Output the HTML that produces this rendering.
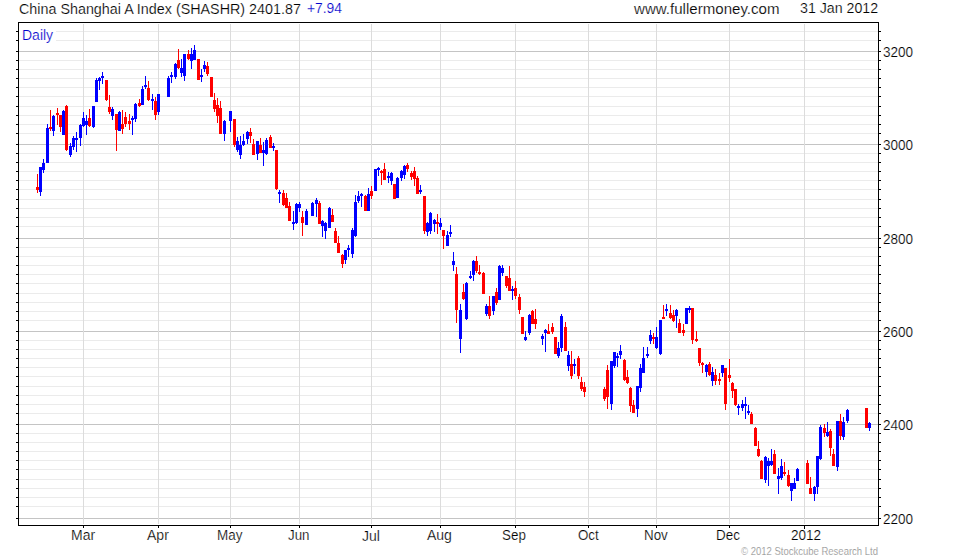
<!DOCTYPE html>
<html><head><meta charset="utf-8"><style>
html,body{margin:0;padding:0;background:#fff;}
body{width:960px;height:560px;overflow:hidden;font-family:"Liberation Sans",sans-serif;}
svg{display:block;}
</style></head><body>
<svg width="960" height="560" viewBox="0 0 960 560">
<rect width="960" height="560" fill="#fff"/>
<g shape-rendering="crispEdges">
<rect x="19" y="31" width="859" height="1" fill="#ebebeb"/>
<rect x="19" y="40" width="859" height="1" fill="#ebebeb"/>
<rect x="19" y="60" width="859" height="1" fill="#ebebeb"/>
<rect x="19" y="69" width="859" height="1" fill="#ebebeb"/>
<rect x="19" y="78" width="859" height="1" fill="#ebebeb"/>
<rect x="19" y="87" width="859" height="1" fill="#ebebeb"/>
<rect x="19" y="96" width="859" height="1" fill="#ebebeb"/>
<rect x="19" y="106" width="859" height="1" fill="#ebebeb"/>
<rect x="19" y="115" width="859" height="1" fill="#ebebeb"/>
<rect x="19" y="124" width="859" height="1" fill="#ebebeb"/>
<rect x="19" y="133" width="859" height="1" fill="#ebebeb"/>
<rect x="19" y="153" width="859" height="1" fill="#ebebeb"/>
<rect x="19" y="162" width="859" height="1" fill="#ebebeb"/>
<rect x="19" y="171" width="859" height="1" fill="#ebebeb"/>
<rect x="19" y="180" width="859" height="1" fill="#ebebeb"/>
<rect x="19" y="189" width="859" height="1" fill="#ebebeb"/>
<rect x="19" y="199" width="859" height="1" fill="#ebebeb"/>
<rect x="19" y="208" width="859" height="1" fill="#ebebeb"/>
<rect x="19" y="217" width="859" height="1" fill="#ebebeb"/>
<rect x="19" y="226" width="859" height="1" fill="#ebebeb"/>
<rect x="19" y="247" width="859" height="1" fill="#ebebeb"/>
<rect x="19" y="256" width="859" height="1" fill="#ebebeb"/>
<rect x="19" y="265" width="859" height="1" fill="#ebebeb"/>
<rect x="19" y="274" width="859" height="1" fill="#ebebeb"/>
<rect x="19" y="283" width="859" height="1" fill="#ebebeb"/>
<rect x="19" y="293" width="859" height="1" fill="#ebebeb"/>
<rect x="19" y="302" width="859" height="1" fill="#ebebeb"/>
<rect x="19" y="311" width="859" height="1" fill="#ebebeb"/>
<rect x="19" y="320" width="859" height="1" fill="#ebebeb"/>
<rect x="19" y="340" width="859" height="1" fill="#ebebeb"/>
<rect x="19" y="349" width="859" height="1" fill="#ebebeb"/>
<rect x="19" y="358" width="859" height="1" fill="#ebebeb"/>
<rect x="19" y="367" width="859" height="1" fill="#ebebeb"/>
<rect x="19" y="376" width="859" height="1" fill="#ebebeb"/>
<rect x="19" y="386" width="859" height="1" fill="#ebebeb"/>
<rect x="19" y="395" width="859" height="1" fill="#ebebeb"/>
<rect x="19" y="404" width="859" height="1" fill="#ebebeb"/>
<rect x="19" y="413" width="859" height="1" fill="#ebebeb"/>
<rect x="19" y="433" width="859" height="1" fill="#ebebeb"/>
<rect x="19" y="442" width="859" height="1" fill="#ebebeb"/>
<rect x="19" y="451" width="859" height="1" fill="#ebebeb"/>
<rect x="19" y="460" width="859" height="1" fill="#ebebeb"/>
<rect x="19" y="469" width="859" height="1" fill="#ebebeb"/>
<rect x="19" y="479" width="859" height="1" fill="#ebebeb"/>
<rect x="19" y="488" width="859" height="1" fill="#ebebeb"/>
<rect x="19" y="497" width="859" height="1" fill="#ebebeb"/>
<rect x="19" y="506" width="859" height="1" fill="#ebebeb"/>
<rect x="19" y="51" width="859" height="1" fill="#c4c4c4"/>
<rect x="19" y="144" width="859" height="1" fill="#c4c4c4"/>
<rect x="19" y="238" width="859" height="1" fill="#c4c4c4"/>
<rect x="19" y="331" width="859" height="1" fill="#c4c4c4"/>
<rect x="19" y="424" width="859" height="1" fill="#c4c4c4"/>
<rect x="19" y="518" width="859" height="1" fill="#c4c4c4"/>
<rect x="19" y="23" width="37" height="24" fill="#fff"/>
<rect x="83" y="24" width="1" height="500" fill="#dcdcdc"/>
<rect x="158" y="24" width="1" height="500" fill="#dcdcdc"/>
<rect x="230" y="24" width="1" height="500" fill="#dcdcdc"/>
<rect x="299" y="24" width="1" height="500" fill="#dcdcdc"/>
<rect x="371" y="24" width="1" height="500" fill="#dcdcdc"/>
<rect x="440" y="24" width="1" height="500" fill="#dcdcdc"/>
<rect x="515" y="24" width="1" height="500" fill="#dcdcdc"/>
<rect x="588" y="24" width="1" height="500" fill="#dcdcdc"/>
<rect x="656" y="24" width="1" height="500" fill="#dcdcdc"/>
<rect x="729" y="24" width="1" height="500" fill="#dcdcdc"/>
<rect x="804" y="24" width="1" height="500" fill="#dcdcdc"/>
<rect x="18" y="22" width="861" height="1" fill="#000"/>
<rect x="18" y="525" width="861" height="1" fill="#000"/>
<rect x="18" y="22" width="1" height="504" fill="#000"/>
<rect x="878" y="22" width="1" height="504" fill="#000"/>
<rect x="16" y="31" width="2" height="1" fill="#000"/>
<rect x="879" y="31" width="2" height="1" fill="#000"/>
<rect x="16" y="40" width="2" height="1" fill="#000"/>
<rect x="879" y="40" width="2" height="1" fill="#000"/>
<rect x="16" y="60" width="2" height="1" fill="#000"/>
<rect x="879" y="60" width="2" height="1" fill="#000"/>
<rect x="16" y="69" width="2" height="1" fill="#000"/>
<rect x="879" y="69" width="2" height="1" fill="#000"/>
<rect x="16" y="78" width="2" height="1" fill="#000"/>
<rect x="879" y="78" width="2" height="1" fill="#000"/>
<rect x="16" y="87" width="2" height="1" fill="#000"/>
<rect x="879" y="87" width="2" height="1" fill="#000"/>
<rect x="16" y="96" width="2" height="1" fill="#000"/>
<rect x="879" y="96" width="2" height="1" fill="#000"/>
<rect x="16" y="106" width="2" height="1" fill="#000"/>
<rect x="879" y="106" width="2" height="1" fill="#000"/>
<rect x="16" y="115" width="2" height="1" fill="#000"/>
<rect x="879" y="115" width="2" height="1" fill="#000"/>
<rect x="16" y="124" width="2" height="1" fill="#000"/>
<rect x="879" y="124" width="2" height="1" fill="#000"/>
<rect x="16" y="133" width="2" height="1" fill="#000"/>
<rect x="879" y="133" width="2" height="1" fill="#000"/>
<rect x="16" y="153" width="2" height="1" fill="#000"/>
<rect x="879" y="153" width="2" height="1" fill="#000"/>
<rect x="16" y="162" width="2" height="1" fill="#000"/>
<rect x="879" y="162" width="2" height="1" fill="#000"/>
<rect x="16" y="171" width="2" height="1" fill="#000"/>
<rect x="879" y="171" width="2" height="1" fill="#000"/>
<rect x="16" y="180" width="2" height="1" fill="#000"/>
<rect x="879" y="180" width="2" height="1" fill="#000"/>
<rect x="16" y="189" width="2" height="1" fill="#000"/>
<rect x="879" y="189" width="2" height="1" fill="#000"/>
<rect x="16" y="199" width="2" height="1" fill="#000"/>
<rect x="879" y="199" width="2" height="1" fill="#000"/>
<rect x="16" y="208" width="2" height="1" fill="#000"/>
<rect x="879" y="208" width="2" height="1" fill="#000"/>
<rect x="16" y="217" width="2" height="1" fill="#000"/>
<rect x="879" y="217" width="2" height="1" fill="#000"/>
<rect x="16" y="226" width="2" height="1" fill="#000"/>
<rect x="879" y="226" width="2" height="1" fill="#000"/>
<rect x="16" y="247" width="2" height="1" fill="#000"/>
<rect x="879" y="247" width="2" height="1" fill="#000"/>
<rect x="16" y="256" width="2" height="1" fill="#000"/>
<rect x="879" y="256" width="2" height="1" fill="#000"/>
<rect x="16" y="265" width="2" height="1" fill="#000"/>
<rect x="879" y="265" width="2" height="1" fill="#000"/>
<rect x="16" y="274" width="2" height="1" fill="#000"/>
<rect x="879" y="274" width="2" height="1" fill="#000"/>
<rect x="16" y="283" width="2" height="1" fill="#000"/>
<rect x="879" y="283" width="2" height="1" fill="#000"/>
<rect x="16" y="293" width="2" height="1" fill="#000"/>
<rect x="879" y="293" width="2" height="1" fill="#000"/>
<rect x="16" y="302" width="2" height="1" fill="#000"/>
<rect x="879" y="302" width="2" height="1" fill="#000"/>
<rect x="16" y="311" width="2" height="1" fill="#000"/>
<rect x="879" y="311" width="2" height="1" fill="#000"/>
<rect x="16" y="320" width="2" height="1" fill="#000"/>
<rect x="879" y="320" width="2" height="1" fill="#000"/>
<rect x="16" y="340" width="2" height="1" fill="#000"/>
<rect x="879" y="340" width="2" height="1" fill="#000"/>
<rect x="16" y="349" width="2" height="1" fill="#000"/>
<rect x="879" y="349" width="2" height="1" fill="#000"/>
<rect x="16" y="358" width="2" height="1" fill="#000"/>
<rect x="879" y="358" width="2" height="1" fill="#000"/>
<rect x="16" y="367" width="2" height="1" fill="#000"/>
<rect x="879" y="367" width="2" height="1" fill="#000"/>
<rect x="16" y="376" width="2" height="1" fill="#000"/>
<rect x="879" y="376" width="2" height="1" fill="#000"/>
<rect x="16" y="386" width="2" height="1" fill="#000"/>
<rect x="879" y="386" width="2" height="1" fill="#000"/>
<rect x="16" y="395" width="2" height="1" fill="#000"/>
<rect x="879" y="395" width="2" height="1" fill="#000"/>
<rect x="16" y="404" width="2" height="1" fill="#000"/>
<rect x="879" y="404" width="2" height="1" fill="#000"/>
<rect x="16" y="413" width="2" height="1" fill="#000"/>
<rect x="879" y="413" width="2" height="1" fill="#000"/>
<rect x="16" y="433" width="2" height="1" fill="#000"/>
<rect x="879" y="433" width="2" height="1" fill="#000"/>
<rect x="16" y="442" width="2" height="1" fill="#000"/>
<rect x="879" y="442" width="2" height="1" fill="#000"/>
<rect x="16" y="451" width="2" height="1" fill="#000"/>
<rect x="879" y="451" width="2" height="1" fill="#000"/>
<rect x="16" y="460" width="2" height="1" fill="#000"/>
<rect x="879" y="460" width="2" height="1" fill="#000"/>
<rect x="16" y="469" width="2" height="1" fill="#000"/>
<rect x="879" y="469" width="2" height="1" fill="#000"/>
<rect x="16" y="479" width="2" height="1" fill="#000"/>
<rect x="879" y="479" width="2" height="1" fill="#000"/>
<rect x="16" y="488" width="2" height="1" fill="#000"/>
<rect x="879" y="488" width="2" height="1" fill="#000"/>
<rect x="16" y="497" width="2" height="1" fill="#000"/>
<rect x="879" y="497" width="2" height="1" fill="#000"/>
<rect x="16" y="506" width="2" height="1" fill="#000"/>
<rect x="879" y="506" width="2" height="1" fill="#000"/>
<rect x="16" y="51" width="2" height="1" fill="#000"/>
<rect x="879" y="51" width="2" height="1" fill="#000"/>
<rect x="16" y="144" width="2" height="1" fill="#000"/>
<rect x="879" y="144" width="2" height="1" fill="#000"/>
<rect x="16" y="238" width="2" height="1" fill="#000"/>
<rect x="879" y="238" width="2" height="1" fill="#000"/>
<rect x="16" y="331" width="2" height="1" fill="#000"/>
<rect x="879" y="331" width="2" height="1" fill="#000"/>
<rect x="16" y="424" width="2" height="1" fill="#000"/>
<rect x="879" y="424" width="2" height="1" fill="#000"/>
<rect x="16" y="518" width="2" height="1" fill="#000"/>
<rect x="879" y="518" width="2" height="1" fill="#000"/>
<rect x="83" y="526" width="1" height="2" fill="#000"/>
<rect x="158" y="526" width="1" height="2" fill="#000"/>
<rect x="230" y="526" width="1" height="2" fill="#000"/>
<rect x="299" y="526" width="1" height="2" fill="#000"/>
<rect x="371" y="526" width="1" height="2" fill="#000"/>
<rect x="440" y="526" width="1" height="2" fill="#000"/>
<rect x="515" y="526" width="1" height="2" fill="#000"/>
<rect x="588" y="526" width="1" height="2" fill="#000"/>
<rect x="656" y="526" width="1" height="2" fill="#000"/>
<rect x="729" y="526" width="1" height="2" fill="#000"/>
<rect x="804" y="526" width="1" height="3" fill="#000"/>
<rect x="37" y="174.0" width="1" height="19.0" fill="#ff0000"/>
<rect x="36" y="187.0" width="3" height="3.0" fill="#ff0000"/>
<rect x="40" y="167.0" width="1" height="29.0" fill="#0000ff"/>
<rect x="39" y="167.0" width="3" height="25.0" fill="#0000ff"/>
<rect x="43" y="159.0" width="1" height="14.0" fill="#0000ff"/>
<rect x="42" y="163.0" width="3" height="7.0" fill="#0000ff"/>
<rect x="47" y="124.0" width="1" height="39.0" fill="#0000ff"/>
<rect x="46" y="128.0" width="3" height="35.0" fill="#0000ff"/>
<rect x="50" y="110.0" width="1" height="21.0" fill="#ff0000"/>
<rect x="49" y="127.0" width="3" height="2.0" fill="#ff0000"/>
<rect x="53" y="115.0" width="1" height="21.0" fill="#0000ff"/>
<rect x="52" y="116.0" width="3" height="15.0" fill="#0000ff"/>
<rect x="57" y="108.0" width="1" height="17.0" fill="#ff0000"/>
<rect x="56" y="113.0" width="3" height="2.0" fill="#ff0000"/>
<rect x="60" y="115.0" width="1" height="17.0" fill="#ff0000"/>
<rect x="59" y="115.0" width="3" height="12.0" fill="#ff0000"/>
<rect x="63" y="110.0" width="1" height="25.0" fill="#0000ff"/>
<rect x="62" y="111.0" width="3" height="24.0" fill="#0000ff"/>
<rect x="66" y="105.0" width="1" height="46.0" fill="#ff0000"/>
<rect x="65" y="106.0" width="3" height="44.0" fill="#ff0000"/>
<rect x="70" y="143.0" width="1" height="14.0" fill="#0000ff"/>
<rect x="69" y="146.0" width="3" height="9.0" fill="#0000ff"/>
<rect x="73" y="136.0" width="1" height="14.0" fill="#0000ff"/>
<rect x="72" y="138.0" width="3" height="9.0" fill="#0000ff"/>
<rect x="76" y="132.0" width="1" height="20.0" fill="#0000ff"/>
<rect x="75" y="138.0" width="3" height="2.0" fill="#0000ff"/>
<rect x="80" y="124.0" width="1" height="22.0" fill="#0000ff"/>
<rect x="79" y="125.0" width="3" height="13.0" fill="#0000ff"/>
<rect x="83" y="112.0" width="1" height="15.0" fill="#0000ff"/>
<rect x="82" y="118.0" width="3" height="8.0" fill="#0000ff"/>
<rect x="86" y="115.0" width="1" height="20.0" fill="#0000ff"/>
<rect x="85" y="121.0" width="3" height="4.0" fill="#0000ff"/>
<rect x="89" y="109.0" width="1" height="18.0" fill="#ff0000"/>
<rect x="88" y="118.0" width="3" height="8.0" fill="#ff0000"/>
<rect x="93" y="106.0" width="1" height="22.0" fill="#0000ff"/>
<rect x="92" y="106.0" width="3" height="21.0" fill="#0000ff"/>
<rect x="96" y="78.0" width="1" height="24.0" fill="#0000ff"/>
<rect x="95" y="80.0" width="3" height="22.0" fill="#0000ff"/>
<rect x="99" y="77.0" width="1" height="13.0" fill="#0000ff"/>
<rect x="98" y="78.0" width="3" height="3.0" fill="#0000ff"/>
<rect x="102" y="72.0" width="1" height="12.0" fill="#0000ff"/>
<rect x="101" y="76.0" width="3" height="2.0" fill="#0000ff"/>
<rect x="106" y="80.0" width="1" height="21.0" fill="#ff0000"/>
<rect x="105" y="80.0" width="3" height="20.0" fill="#ff0000"/>
<rect x="109" y="95.0" width="1" height="19.0" fill="#ff0000"/>
<rect x="108" y="107.0" width="3" height="5.0" fill="#ff0000"/>
<rect x="112" y="107.0" width="1" height="13.0" fill="#0000ff"/>
<rect x="111" y="109.0" width="3" height="7.0" fill="#0000ff"/>
<rect x="116" y="114.0" width="1" height="37.0" fill="#ff0000"/>
<rect x="115" y="114.0" width="3" height="16.0" fill="#ff0000"/>
<rect x="119" y="111.0" width="1" height="20.0" fill="#0000ff"/>
<rect x="118" y="112.0" width="3" height="19.0" fill="#0000ff"/>
<rect x="122" y="110.0" width="1" height="24.0" fill="#ff0000"/>
<rect x="121" y="124.0" width="3" height="5.0" fill="#ff0000"/>
<rect x="125" y="112.0" width="1" height="15.0" fill="#ff0000"/>
<rect x="124" y="117.0" width="3" height="7.0" fill="#ff0000"/>
<rect x="129" y="114.0" width="1" height="16.0" fill="#ff0000"/>
<rect x="128" y="121.0" width="3" height="3.0" fill="#ff0000"/>
<rect x="132" y="116.0" width="1" height="19.0" fill="#0000ff"/>
<rect x="131" y="118.0" width="3" height="2.0" fill="#0000ff"/>
<rect x="135" y="103.0" width="1" height="19.0" fill="#0000ff"/>
<rect x="134" y="104.0" width="3" height="15.0" fill="#0000ff"/>
<rect x="139" y="99.0" width="1" height="8.0" fill="#ff0000"/>
<rect x="138" y="103.0" width="3" height="3.0" fill="#ff0000"/>
<rect x="142" y="86.0" width="1" height="19.0" fill="#0000ff"/>
<rect x="141" y="89.0" width="3" height="16.0" fill="#0000ff"/>
<rect x="145" y="76.0" width="1" height="13.0" fill="#0000ff"/>
<rect x="144" y="85.0" width="3" height="2.0" fill="#0000ff"/>
<rect x="148" y="81.0" width="1" height="20.0" fill="#ff0000"/>
<rect x="147" y="88.0" width="3" height="12.0" fill="#ff0000"/>
<rect x="152" y="94.0" width="1" height="16.0" fill="#0000ff"/>
<rect x="151" y="99.0" width="3" height="2.0" fill="#0000ff"/>
<rect x="155" y="97.0" width="1" height="23.0" fill="#ff0000"/>
<rect x="154" y="101.0" width="3" height="14.0" fill="#ff0000"/>
<rect x="158" y="94.0" width="1" height="21.0" fill="#0000ff"/>
<rect x="157" y="94.0" width="3" height="18.0" fill="#0000ff"/>
<rect x="168" y="76.0" width="1" height="21.0" fill="#0000ff"/>
<rect x="167" y="78.0" width="3" height="19.0" fill="#0000ff"/>
<rect x="171" y="72.0" width="1" height="11.0" fill="#0000ff"/>
<rect x="170" y="75.0" width="3" height="2.0" fill="#0000ff"/>
<rect x="175" y="63.0" width="1" height="16.0" fill="#0000ff"/>
<rect x="174" y="64.0" width="3" height="13.0" fill="#0000ff"/>
<rect x="178" y="49.0" width="1" height="20.0" fill="#ff0000"/>
<rect x="177" y="60.0" width="3" height="8.0" fill="#ff0000"/>
<rect x="181" y="59.0" width="1" height="18.0" fill="#0000ff"/>
<rect x="180" y="68.0" width="3" height="5.0" fill="#0000ff"/>
<rect x="184" y="54.0" width="1" height="27.0" fill="#0000ff"/>
<rect x="183" y="54.0" width="3" height="22.0" fill="#0000ff"/>
<rect x="188" y="50.0" width="1" height="10.0" fill="#ff0000"/>
<rect x="187" y="54.0" width="3" height="5.0" fill="#ff0000"/>
<rect x="191" y="48.0" width="1" height="21.0" fill="#0000ff"/>
<rect x="190" y="54.0" width="3" height="7.0" fill="#0000ff"/>
<rect x="194" y="45.0" width="1" height="15.0" fill="#0000ff"/>
<rect x="193" y="50.0" width="3" height="10.0" fill="#0000ff"/>
<rect x="198" y="59.0" width="1" height="21.0" fill="#ff0000"/>
<rect x="197" y="59.0" width="3" height="21.0" fill="#ff0000"/>
<rect x="201" y="69.0" width="1" height="13.0" fill="#0000ff"/>
<rect x="200" y="75.0" width="3" height="2.0" fill="#0000ff"/>
<rect x="204" y="61.0" width="1" height="11.0" fill="#0000ff"/>
<rect x="203" y="65.0" width="3" height="4.0" fill="#0000ff"/>
<rect x="207" y="62.0" width="1" height="14.0" fill="#ff0000"/>
<rect x="206" y="66.0" width="3" height="8.0" fill="#ff0000"/>
<rect x="211" y="77.0" width="1" height="20.0" fill="#ff0000"/>
<rect x="210" y="77.0" width="3" height="20.0" fill="#ff0000"/>
<rect x="214" y="93.0" width="1" height="19.0" fill="#ff0000"/>
<rect x="213" y="100.0" width="3" height="9.0" fill="#ff0000"/>
<rect x="217" y="98.0" width="1" height="25.0" fill="#ff0000"/>
<rect x="216" y="105.0" width="3" height="11.0" fill="#ff0000"/>
<rect x="220" y="101.0" width="1" height="33.0" fill="#ff0000"/>
<rect x="219" y="108.0" width="3" height="26.0" fill="#ff0000"/>
<rect x="224" y="120.0" width="1" height="21.0" fill="#0000ff"/>
<rect x="223" y="121.0" width="3" height="13.0" fill="#0000ff"/>
<rect x="230" y="111.0" width="1" height="21.0" fill="#0000ff"/>
<rect x="229" y="111.0" width="3" height="10.0" fill="#0000ff"/>
<rect x="234" y="119.0" width="1" height="28.0" fill="#ff0000"/>
<rect x="233" y="119.0" width="3" height="26.0" fill="#ff0000"/>
<rect x="237" y="137.0" width="1" height="15.0" fill="#0000ff"/>
<rect x="236" y="141.0" width="3" height="9.0" fill="#0000ff"/>
<rect x="240" y="136.0" width="1" height="23.0" fill="#0000ff"/>
<rect x="239" y="145.0" width="3" height="10.0" fill="#0000ff"/>
<rect x="243" y="134.0" width="1" height="12.0" fill="#0000ff"/>
<rect x="242" y="141.0" width="3" height="4.0" fill="#0000ff"/>
<rect x="247" y="131.0" width="1" height="13.0" fill="#0000ff"/>
<rect x="246" y="132.0" width="3" height="7.0" fill="#0000ff"/>
<rect x="250" y="128.0" width="1" height="15.0" fill="#ff0000"/>
<rect x="249" y="132.0" width="3" height="4.0" fill="#ff0000"/>
<rect x="253" y="139.0" width="1" height="16.0" fill="#ff0000"/>
<rect x="252" y="144.0" width="3" height="11.0" fill="#ff0000"/>
<rect x="257" y="141.0" width="1" height="19.0" fill="#0000ff"/>
<rect x="256" y="141.0" width="3" height="13.0" fill="#0000ff"/>
<rect x="260" y="138.0" width="1" height="15.0" fill="#ff0000"/>
<rect x="259" y="145.0" width="3" height="8.0" fill="#ff0000"/>
<rect x="263" y="142.0" width="1" height="24.0" fill="#0000ff"/>
<rect x="262" y="150.0" width="3" height="3.0" fill="#0000ff"/>
<rect x="266" y="138.0" width="1" height="17.0" fill="#0000ff"/>
<rect x="265" y="140.0" width="3" height="14.0" fill="#0000ff"/>
<rect x="270" y="135.0" width="1" height="13.0" fill="#ff0000"/>
<rect x="269" y="137.0" width="3" height="11.0" fill="#ff0000"/>
<rect x="273" y="143.0" width="1" height="8.0" fill="#0000ff"/>
<rect x="272" y="146.0" width="3" height="1.5" fill="#0000ff"/>
<rect x="276" y="150.0" width="1" height="40.0" fill="#ff0000"/>
<rect x="275" y="150.0" width="3" height="39.0" fill="#ff0000"/>
<rect x="279" y="190.0" width="1" height="13.0" fill="#0000ff"/>
<rect x="278" y="192.0" width="3" height="2.0" fill="#0000ff"/>
<rect x="283" y="190.0" width="1" height="16.0" fill="#ff0000"/>
<rect x="282" y="193.0" width="3" height="12.0" fill="#ff0000"/>
<rect x="286" y="193.0" width="1" height="15.0" fill="#ff0000"/>
<rect x="285" y="198.0" width="3" height="10.0" fill="#ff0000"/>
<rect x="289" y="202.0" width="1" height="19.0" fill="#ff0000"/>
<rect x="288" y="206.0" width="3" height="15.0" fill="#ff0000"/>
<rect x="293" y="211.0" width="1" height="19.0" fill="#0000ff"/>
<rect x="292" y="222.0" width="3" height="2.0" fill="#0000ff"/>
<rect x="296" y="203.0" width="1" height="21.0" fill="#0000ff"/>
<rect x="295" y="204.0" width="3" height="19.0" fill="#0000ff"/>
<rect x="299" y="202.0" width="1" height="10.0" fill="#0000ff"/>
<rect x="298" y="204.0" width="3" height="4.0" fill="#0000ff"/>
<rect x="302" y="211.0" width="1" height="25.0" fill="#ff0000"/>
<rect x="301" y="217.0" width="3" height="6.0" fill="#ff0000"/>
<rect x="306" y="209.0" width="1" height="16.0" fill="#0000ff"/>
<rect x="305" y="211.0" width="3" height="14.0" fill="#0000ff"/>
<rect x="312" y="202.0" width="1" height="14.0" fill="#0000ff"/>
<rect x="311" y="203.0" width="3" height="13.0" fill="#0000ff"/>
<rect x="316" y="198.0" width="1" height="19.0" fill="#0000ff"/>
<rect x="315" y="200.0" width="3" height="4.0" fill="#0000ff"/>
<rect x="319" y="201.0" width="1" height="23.0" fill="#ff0000"/>
<rect x="318" y="203.0" width="3" height="21.0" fill="#ff0000"/>
<rect x="322" y="220.0" width="1" height="17.0" fill="#0000ff"/>
<rect x="321" y="221.0" width="3" height="5.0" fill="#0000ff"/>
<rect x="325" y="222.0" width="1" height="17.0" fill="#0000ff"/>
<rect x="324" y="223.0" width="3" height="8.0" fill="#0000ff"/>
<rect x="329" y="207.0" width="1" height="21.0" fill="#0000ff"/>
<rect x="328" y="208.0" width="3" height="20.0" fill="#0000ff"/>
<rect x="332" y="209.0" width="1" height="13.0" fill="#ff0000"/>
<rect x="331" y="215.0" width="3" height="7.0" fill="#ff0000"/>
<rect x="335" y="228.0" width="1" height="15.0" fill="#ff0000"/>
<rect x="334" y="231.0" width="3" height="12.0" fill="#ff0000"/>
<rect x="338" y="236.0" width="1" height="17.0" fill="#ff0000"/>
<rect x="337" y="243.0" width="3" height="10.0" fill="#ff0000"/>
<rect x="342" y="254.0" width="1" height="14.0" fill="#ff0000"/>
<rect x="341" y="255.0" width="3" height="9.0" fill="#ff0000"/>
<rect x="345" y="250.0" width="1" height="14.0" fill="#0000ff"/>
<rect x="344" y="250.0" width="3" height="10.0" fill="#0000ff"/>
<rect x="348" y="245.0" width="1" height="12.0" fill="#0000ff"/>
<rect x="347" y="248.0" width="3" height="2.0" fill="#0000ff"/>
<rect x="352" y="228.0" width="1" height="30.0" fill="#0000ff"/>
<rect x="351" y="230.0" width="3" height="24.0" fill="#0000ff"/>
<rect x="355" y="195.0" width="1" height="42.0" fill="#0000ff"/>
<rect x="354" y="202.0" width="3" height="34.0" fill="#0000ff"/>
<rect x="358" y="191.0" width="1" height="12.0" fill="#0000ff"/>
<rect x="357" y="196.0" width="3" height="5.0" fill="#0000ff"/>
<rect x="361" y="193.0" width="1" height="14.0" fill="#0000ff"/>
<rect x="360" y="194.0" width="3" height="2.0" fill="#0000ff"/>
<rect x="365" y="195.0" width="1" height="16.0" fill="#ff0000"/>
<rect x="364" y="196.0" width="3" height="15.0" fill="#ff0000"/>
<rect x="368" y="188.0" width="1" height="23.0" fill="#0000ff"/>
<rect x="367" y="194.0" width="3" height="17.0" fill="#0000ff"/>
<rect x="371" y="186.0" width="1" height="13.0" fill="#ff0000"/>
<rect x="370" y="191.0" width="3" height="5.0" fill="#ff0000"/>
<rect x="375" y="169.0" width="1" height="22.0" fill="#0000ff"/>
<rect x="374" y="169.0" width="3" height="22.0" fill="#0000ff"/>
<rect x="378" y="167.0" width="1" height="9.0" fill="#0000ff"/>
<rect x="377" y="168.0" width="3" height="2.0" fill="#0000ff"/>
<rect x="381" y="170.0" width="1" height="15.0" fill="#ff0000"/>
<rect x="380" y="171.0" width="3" height="1.5" fill="#ff0000"/>
<rect x="384" y="163.0" width="1" height="17.0" fill="#ff0000"/>
<rect x="383" y="169.0" width="3" height="11.0" fill="#ff0000"/>
<rect x="388" y="172.0" width="1" height="11.0" fill="#0000ff"/>
<rect x="387" y="176.0" width="3" height="2.0" fill="#0000ff"/>
<rect x="391" y="172.0" width="1" height="13.0" fill="#0000ff"/>
<rect x="390" y="173.0" width="3" height="8.0" fill="#0000ff"/>
<rect x="394" y="184.0" width="1" height="15.0" fill="#ff0000"/>
<rect x="393" y="184.0" width="3" height="15.0" fill="#ff0000"/>
<rect x="397" y="177.0" width="1" height="21.0" fill="#0000ff"/>
<rect x="396" y="178.0" width="3" height="20.0" fill="#0000ff"/>
<rect x="401" y="170.0" width="1" height="11.0" fill="#0000ff"/>
<rect x="400" y="171.0" width="3" height="7.0" fill="#0000ff"/>
<rect x="404" y="165.0" width="1" height="14.0" fill="#0000ff"/>
<rect x="403" y="166.0" width="3" height="9.0" fill="#0000ff"/>
<rect x="407" y="163.0" width="1" height="9.0" fill="#ff0000"/>
<rect x="406" y="165.0" width="3" height="4.0" fill="#ff0000"/>
<rect x="411" y="171.0" width="1" height="9.0" fill="#ff0000"/>
<rect x="410" y="173.0" width="3" height="4.0" fill="#ff0000"/>
<rect x="414" y="167.0" width="1" height="19.0" fill="#ff0000"/>
<rect x="413" y="171.0" width="3" height="8.0" fill="#ff0000"/>
<rect x="417" y="176.0" width="1" height="18.0" fill="#ff0000"/>
<rect x="416" y="178.0" width="3" height="16.0" fill="#ff0000"/>
<rect x="420" y="185.0" width="1" height="9.0" fill="#0000ff"/>
<rect x="419" y="190.0" width="3" height="2.0" fill="#0000ff"/>
<rect x="424" y="196.0" width="1" height="38.0" fill="#ff0000"/>
<rect x="423" y="196.0" width="3" height="35.0" fill="#ff0000"/>
<rect x="427" y="222.0" width="1" height="14.0" fill="#0000ff"/>
<rect x="426" y="223.0" width="3" height="9.0" fill="#0000ff"/>
<rect x="430" y="212.0" width="1" height="22.0" fill="#0000ff"/>
<rect x="429" y="213.0" width="3" height="18.0" fill="#0000ff"/>
<rect x="434" y="219.0" width="1" height="13.0" fill="#0000ff"/>
<rect x="433" y="220.0" width="3" height="4.0" fill="#0000ff"/>
<rect x="437" y="214.0" width="1" height="20.0" fill="#ff0000"/>
<rect x="436" y="222.0" width="3" height="2.0" fill="#ff0000"/>
<rect x="440" y="218.0" width="1" height="12.0" fill="#0000ff"/>
<rect x="439" y="223.0" width="3" height="4.0" fill="#0000ff"/>
<rect x="443" y="230.0" width="1" height="19.0" fill="#ff0000"/>
<rect x="442" y="230.0" width="3" height="6.0" fill="#ff0000"/>
<rect x="447" y="231.0" width="1" height="15.0" fill="#0000ff"/>
<rect x="446" y="235.0" width="3" height="11.0" fill="#0000ff"/>
<rect x="450" y="225.0" width="1" height="12.0" fill="#0000ff"/>
<rect x="449" y="232.0" width="3" height="2.0" fill="#0000ff"/>
<rect x="453" y="252.0" width="1" height="19.0" fill="#0000ff"/>
<rect x="452" y="261.0" width="3" height="4.0" fill="#0000ff"/>
<rect x="456" y="267.0" width="1" height="56.0" fill="#ff0000"/>
<rect x="455" y="274.0" width="3" height="36.0" fill="#ff0000"/>
<rect x="460" y="304.0" width="1" height="49.0" fill="#0000ff"/>
<rect x="459" y="310.0" width="3" height="29.0" fill="#0000ff"/>
<rect x="463" y="284.0" width="1" height="16.0" fill="#ff0000"/>
<rect x="462" y="292.0" width="3" height="7.0" fill="#ff0000"/>
<rect x="466" y="282.0" width="1" height="38.0" fill="#0000ff"/>
<rect x="465" y="283.0" width="3" height="36.0" fill="#0000ff"/>
<rect x="470" y="271.0" width="1" height="8.0" fill="#0000ff"/>
<rect x="469" y="276.0" width="3" height="2.0" fill="#0000ff"/>
<rect x="473" y="260.0" width="1" height="21.0" fill="#0000ff"/>
<rect x="472" y="261.0" width="3" height="14.0" fill="#0000ff"/>
<rect x="476" y="256.0" width="1" height="17.0" fill="#ff0000"/>
<rect x="475" y="261.0" width="3" height="10.0" fill="#ff0000"/>
<rect x="479" y="265.0" width="1" height="10.0" fill="#ff0000"/>
<rect x="478" y="272.0" width="3" height="2.0" fill="#ff0000"/>
<rect x="483" y="272.0" width="1" height="22.0" fill="#ff0000"/>
<rect x="482" y="273.0" width="3" height="21.0" fill="#ff0000"/>
<rect x="486" y="304.0" width="1" height="12.0" fill="#0000ff"/>
<rect x="485" y="306.0" width="3" height="8.0" fill="#0000ff"/>
<rect x="489" y="296.0" width="1" height="23.0" fill="#ff0000"/>
<rect x="488" y="306.0" width="3" height="10.0" fill="#ff0000"/>
<rect x="493" y="296.0" width="1" height="19.0" fill="#0000ff"/>
<rect x="492" y="296.0" width="3" height="15.0" fill="#0000ff"/>
<rect x="496" y="288.0" width="1" height="17.0" fill="#ff0000"/>
<rect x="495" y="292.0" width="3" height="11.0" fill="#ff0000"/>
<rect x="499" y="265.0" width="1" height="35.0" fill="#0000ff"/>
<rect x="498" y="266.0" width="3" height="34.0" fill="#0000ff"/>
<rect x="502" y="265.0" width="1" height="11.0" fill="#0000ff"/>
<rect x="501" y="268.0" width="3" height="5.0" fill="#0000ff"/>
<rect x="506" y="276.0" width="1" height="12.0" fill="#ff0000"/>
<rect x="505" y="276.0" width="3" height="10.0" fill="#ff0000"/>
<rect x="509" y="266.0" width="1" height="25.0" fill="#ff0000"/>
<rect x="508" y="278.0" width="3" height="13.0" fill="#ff0000"/>
<rect x="512" y="286.0" width="1" height="14.0" fill="#0000ff"/>
<rect x="511" y="289.0" width="3" height="2.0" fill="#0000ff"/>
<rect x="515" y="281.0" width="1" height="18.0" fill="#ff0000"/>
<rect x="514" y="288.0" width="3" height="8.0" fill="#ff0000"/>
<rect x="519" y="294.0" width="1" height="20.0" fill="#ff0000"/>
<rect x="518" y="297.0" width="3" height="13.0" fill="#ff0000"/>
<rect x="522" y="317.0" width="1" height="17.0" fill="#ff0000"/>
<rect x="521" y="317.0" width="3" height="17.0" fill="#ff0000"/>
<rect x="525" y="331.0" width="1" height="10.0" fill="#0000ff"/>
<rect x="524" y="337.0" width="3" height="3.0" fill="#0000ff"/>
<rect x="529" y="314.0" width="1" height="21.0" fill="#0000ff"/>
<rect x="528" y="315.0" width="3" height="18.0" fill="#0000ff"/>
<rect x="532" y="310.0" width="1" height="14.0" fill="#ff0000"/>
<rect x="531" y="311.0" width="3" height="13.0" fill="#ff0000"/>
<rect x="535" y="309.0" width="1" height="20.0" fill="#ff0000"/>
<rect x="534" y="319.0" width="3" height="5.0" fill="#ff0000"/>
<rect x="542" y="334.0" width="1" height="11.0" fill="#0000ff"/>
<rect x="541" y="336.0" width="3" height="3.0" fill="#0000ff"/>
<rect x="545" y="329.0" width="1" height="23.0" fill="#0000ff"/>
<rect x="544" y="330.0" width="3" height="3.0" fill="#0000ff"/>
<rect x="548" y="324.0" width="1" height="10.0" fill="#ff0000"/>
<rect x="547" y="331.0" width="3" height="3.0" fill="#ff0000"/>
<rect x="552" y="323.0" width="1" height="11.0" fill="#ff0000"/>
<rect x="551" y="327.0" width="3" height="5.0" fill="#ff0000"/>
<rect x="555" y="337.0" width="1" height="17.0" fill="#ff0000"/>
<rect x="554" y="337.0" width="3" height="17.0" fill="#ff0000"/>
<rect x="558" y="342.0" width="1" height="16.0" fill="#0000ff"/>
<rect x="557" y="348.0" width="3" height="8.0" fill="#0000ff"/>
<rect x="561" y="314.0" width="1" height="38.0" fill="#0000ff"/>
<rect x="560" y="316.0" width="3" height="32.0" fill="#0000ff"/>
<rect x="565" y="322.0" width="1" height="29.0" fill="#ff0000"/>
<rect x="564" y="327.0" width="3" height="24.0" fill="#ff0000"/>
<rect x="568" y="351.0" width="1" height="20.0" fill="#0000ff"/>
<rect x="567" y="355.0" width="3" height="11.0" fill="#0000ff"/>
<rect x="571" y="351.0" width="1" height="28.0" fill="#ff0000"/>
<rect x="570" y="364.0" width="3" height="12.0" fill="#ff0000"/>
<rect x="574" y="359.0" width="1" height="15.0" fill="#0000ff"/>
<rect x="573" y="364.0" width="3" height="2.0" fill="#0000ff"/>
<rect x="578" y="356.0" width="1" height="23.0" fill="#ff0000"/>
<rect x="577" y="358.0" width="3" height="18.0" fill="#ff0000"/>
<rect x="581" y="377.0" width="1" height="14.0" fill="#ff0000"/>
<rect x="580" y="382.0" width="3" height="7.0" fill="#ff0000"/>
<rect x="584" y="382.0" width="1" height="15.0" fill="#ff0000"/>
<rect x="583" y="387.0" width="3" height="5.0" fill="#ff0000"/>
<rect x="604" y="387.0" width="1" height="14.0" fill="#ff0000"/>
<rect x="603" y="389.0" width="3" height="10.0" fill="#ff0000"/>
<rect x="607" y="365.0" width="1" height="44.0" fill="#ff0000"/>
<rect x="606" y="370.0" width="3" height="27.0" fill="#ff0000"/>
<rect x="611" y="361.0" width="1" height="49.0" fill="#0000ff"/>
<rect x="610" y="361.0" width="3" height="43.0" fill="#0000ff"/>
<rect x="614" y="352.0" width="1" height="16.0" fill="#0000ff"/>
<rect x="613" y="352.0" width="3" height="14.0" fill="#0000ff"/>
<rect x="617" y="353.0" width="1" height="14.0" fill="#0000ff"/>
<rect x="616" y="356.0" width="3" height="2.0" fill="#0000ff"/>
<rect x="620" y="345.0" width="1" height="14.0" fill="#0000ff"/>
<rect x="619" y="351.0" width="3" height="4.0" fill="#0000ff"/>
<rect x="624" y="359.0" width="1" height="22.0" fill="#ff0000"/>
<rect x="623" y="360.0" width="3" height="20.0" fill="#ff0000"/>
<rect x="627" y="370.0" width="1" height="14.0" fill="#ff0000"/>
<rect x="626" y="377.0" width="3" height="6.0" fill="#ff0000"/>
<rect x="630" y="387.0" width="1" height="25.0" fill="#ff0000"/>
<rect x="629" y="388.0" width="3" height="18.0" fill="#ff0000"/>
<rect x="633" y="400.0" width="1" height="13.0" fill="#ff0000"/>
<rect x="632" y="405.0" width="3" height="8.0" fill="#ff0000"/>
<rect x="637" y="386.0" width="1" height="31.0" fill="#0000ff"/>
<rect x="636" y="386.0" width="3" height="23.0" fill="#0000ff"/>
<rect x="640" y="364.0" width="1" height="28.0" fill="#0000ff"/>
<rect x="639" y="368.0" width="3" height="20.0" fill="#0000ff"/>
<rect x="643" y="347.0" width="1" height="26.0" fill="#0000ff"/>
<rect x="642" y="358.0" width="3" height="15.0" fill="#0000ff"/>
<rect x="647" y="347.0" width="1" height="11.0" fill="#0000ff"/>
<rect x="646" y="354.0" width="3" height="2.0" fill="#0000ff"/>
<rect x="650" y="330.0" width="1" height="14.0" fill="#0000ff"/>
<rect x="649" y="335.0" width="3" height="6.0" fill="#0000ff"/>
<rect x="653" y="333.0" width="1" height="11.0" fill="#ff0000"/>
<rect x="652" y="337.0" width="3" height="2.0" fill="#ff0000"/>
<rect x="656" y="327.0" width="1" height="22.0" fill="#0000ff"/>
<rect x="655" y="337.0" width="3" height="11.0" fill="#0000ff"/>
<rect x="660" y="320.0" width="1" height="35.0" fill="#0000ff"/>
<rect x="659" y="320.0" width="3" height="34.0" fill="#0000ff"/>
<rect x="663" y="305.0" width="1" height="14.0" fill="#ff0000"/>
<rect x="662" y="317.0" width="3" height="2.0" fill="#ff0000"/>
<rect x="666" y="304.0" width="1" height="12.0" fill="#0000ff"/>
<rect x="665" y="309.0" width="3" height="2.0" fill="#0000ff"/>
<rect x="670" y="305.0" width="1" height="14.0" fill="#ff0000"/>
<rect x="669" y="313.0" width="3" height="5.0" fill="#ff0000"/>
<rect x="673" y="310.0" width="1" height="12.0" fill="#ff0000"/>
<rect x="672" y="315.0" width="3" height="6.0" fill="#ff0000"/>
<rect x="676" y="309.0" width="1" height="19.0" fill="#0000ff"/>
<rect x="675" y="310.0" width="3" height="6.0" fill="#0000ff"/>
<rect x="679" y="319.0" width="1" height="14.0" fill="#ff0000"/>
<rect x="678" y="323.0" width="3" height="10.0" fill="#ff0000"/>
<rect x="683" y="324.0" width="1" height="12.0" fill="#ff0000"/>
<rect x="682" y="330.0" width="3" height="3.0" fill="#ff0000"/>
<rect x="686" y="308.0" width="1" height="16.0" fill="#0000ff"/>
<rect x="685" y="308.0" width="3" height="16.0" fill="#0000ff"/>
<rect x="689" y="306.0" width="1" height="7.0" fill="#0000ff"/>
<rect x="688" y="308.0" width="3" height="2.0" fill="#0000ff"/>
<rect x="692" y="308.0" width="1" height="36.0" fill="#ff0000"/>
<rect x="691" y="308.0" width="3" height="32.0" fill="#ff0000"/>
<rect x="696" y="331.0" width="1" height="11.0" fill="#ff0000"/>
<rect x="695" y="339.0" width="3" height="2.0" fill="#ff0000"/>
<rect x="699" y="348.0" width="1" height="18.0" fill="#ff0000"/>
<rect x="698" y="348.0" width="3" height="15.0" fill="#ff0000"/>
<rect x="702" y="362.0" width="1" height="11.0" fill="#ff0000"/>
<rect x="701" y="363.0" width="3" height="1.5" fill="#ff0000"/>
<rect x="706" y="364.0" width="1" height="13.0" fill="#0000ff"/>
<rect x="705" y="365.0" width="3" height="7.0" fill="#0000ff"/>
<rect x="709" y="362.0" width="1" height="14.0" fill="#ff0000"/>
<rect x="708" y="364.0" width="3" height="11.0" fill="#ff0000"/>
<rect x="712" y="367.0" width="1" height="19.0" fill="#0000ff"/>
<rect x="711" y="372.0" width="3" height="9.0" fill="#0000ff"/>
<rect x="715" y="369.0" width="1" height="16.0" fill="#ff0000"/>
<rect x="714" y="375.0" width="3" height="6.0" fill="#ff0000"/>
<rect x="719" y="373.0" width="1" height="12.0" fill="#ff0000"/>
<rect x="718" y="379.0" width="3" height="2.0" fill="#ff0000"/>
<rect x="722" y="365.0" width="1" height="12.0" fill="#0000ff"/>
<rect x="721" y="365.0" width="3" height="8.0" fill="#0000ff"/>
<rect x="725" y="368.0" width="1" height="42.0" fill="#ff0000"/>
<rect x="724" y="368.0" width="3" height="36.0" fill="#ff0000"/>
<rect x="729" y="359.0" width="1" height="23.0" fill="#ff0000"/>
<rect x="728" y="375.0" width="3" height="3.0" fill="#ff0000"/>
<rect x="732" y="382.0" width="1" height="16.0" fill="#ff0000"/>
<rect x="731" y="383.0" width="3" height="8.0" fill="#ff0000"/>
<rect x="735" y="389.0" width="1" height="17.0" fill="#ff0000"/>
<rect x="734" y="389.0" width="3" height="16.0" fill="#ff0000"/>
<rect x="738" y="404.0" width="1" height="11.0" fill="#0000ff"/>
<rect x="737" y="406.0" width="3" height="2.0" fill="#0000ff"/>
<rect x="742" y="400.0" width="1" height="11.0" fill="#0000ff"/>
<rect x="741" y="404.0" width="3" height="4.0" fill="#0000ff"/>
<rect x="745" y="397.0" width="1" height="22.0" fill="#0000ff"/>
<rect x="744" y="404.0" width="3" height="2.0" fill="#0000ff"/>
<rect x="748" y="405.0" width="1" height="10.0" fill="#0000ff"/>
<rect x="747" y="411.0" width="3" height="2.0" fill="#0000ff"/>
<rect x="751" y="412.0" width="1" height="12.0" fill="#ff0000"/>
<rect x="750" y="414.0" width="3" height="10.0" fill="#ff0000"/>
<rect x="755" y="427.0" width="1" height="19.0" fill="#ff0000"/>
<rect x="754" y="428.0" width="3" height="18.0" fill="#ff0000"/>
<rect x="758" y="441.0" width="1" height="16.0" fill="#ff0000"/>
<rect x="757" y="449.0" width="3" height="7.0" fill="#ff0000"/>
<rect x="761" y="460.0" width="1" height="19.0" fill="#ff0000"/>
<rect x="760" y="461.0" width="3" height="18.0" fill="#ff0000"/>
<rect x="765" y="456.0" width="1" height="27.0" fill="#0000ff"/>
<rect x="764" y="457.0" width="3" height="23.0" fill="#0000ff"/>
<rect x="768" y="458.0" width="1" height="28.0" fill="#0000ff"/>
<rect x="767" y="461.0" width="3" height="5.0" fill="#0000ff"/>
<rect x="771" y="449.0" width="1" height="17.0" fill="#0000ff"/>
<rect x="770" y="461.0" width="3" height="4.0" fill="#0000ff"/>
<rect x="774" y="450.0" width="1" height="24.0" fill="#ff0000"/>
<rect x="773" y="454.0" width="3" height="20.0" fill="#ff0000"/>
<rect x="778" y="468.0" width="1" height="26.0" fill="#0000ff"/>
<rect x="777" y="476.0" width="3" height="3.0" fill="#0000ff"/>
<rect x="781" y="459.0" width="1" height="21.0" fill="#0000ff"/>
<rect x="780" y="466.0" width="3" height="12.0" fill="#0000ff"/>
<rect x="784" y="462.0" width="1" height="14.0" fill="#ff0000"/>
<rect x="783" y="472.0" width="3" height="2.0" fill="#ff0000"/>
<rect x="788" y="470.0" width="1" height="17.0" fill="#ff0000"/>
<rect x="787" y="475.0" width="3" height="11.0" fill="#ff0000"/>
<rect x="791" y="483.0" width="1" height="18.0" fill="#0000ff"/>
<rect x="790" y="483.0" width="3" height="8.0" fill="#0000ff"/>
<rect x="794" y="478.0" width="1" height="11.0" fill="#0000ff"/>
<rect x="793" y="483.0" width="3" height="6.0" fill="#0000ff"/>
<rect x="797" y="468.0" width="1" height="13.0" fill="#0000ff"/>
<rect x="796" y="469.0" width="3" height="12.0" fill="#0000ff"/>
<rect x="807" y="460.0" width="1" height="24.0" fill="#ff0000"/>
<rect x="806" y="463.0" width="3" height="21.0" fill="#ff0000"/>
<rect x="810" y="477.0" width="1" height="17.0" fill="#ff0000"/>
<rect x="809" y="488.0" width="3" height="6.0" fill="#ff0000"/>
<rect x="814" y="486.0" width="1" height="15.0" fill="#0000ff"/>
<rect x="813" y="487.0" width="3" height="7.0" fill="#0000ff"/>
<rect x="817" y="456.0" width="1" height="38.0" fill="#0000ff"/>
<rect x="816" y="456.0" width="3" height="31.0" fill="#0000ff"/>
<rect x="820" y="425.0" width="1" height="35.0" fill="#0000ff"/>
<rect x="819" y="427.0" width="3" height="32.0" fill="#0000ff"/>
<rect x="824" y="424.0" width="1" height="13.0" fill="#ff0000"/>
<rect x="823" y="428.0" width="3" height="5.0" fill="#ff0000"/>
<rect x="827" y="422.0" width="1" height="15.0" fill="#0000ff"/>
<rect x="826" y="432.0" width="3" height="4.0" fill="#0000ff"/>
<rect x="830" y="429.0" width="1" height="27.0" fill="#ff0000"/>
<rect x="829" y="431.0" width="3" height="17.0" fill="#ff0000"/>
<rect x="833" y="449.0" width="1" height="17.0" fill="#ff0000"/>
<rect x="832" y="454.0" width="3" height="12.0" fill="#ff0000"/>
<rect x="837" y="421.0" width="1" height="50.0" fill="#0000ff"/>
<rect x="836" y="421.0" width="3" height="46.0" fill="#0000ff"/>
<rect x="840" y="414.0" width="1" height="26.0" fill="#ff0000"/>
<rect x="839" y="421.0" width="3" height="15.0" fill="#ff0000"/>
<rect x="843" y="417.0" width="1" height="23.0" fill="#0000ff"/>
<rect x="842" y="422.0" width="3" height="15.0" fill="#0000ff"/>
<rect x="847" y="409.0" width="1" height="14.0" fill="#0000ff"/>
<rect x="846" y="410.0" width="3" height="11.0" fill="#0000ff"/>
<rect x="866" y="408.0" width="1" height="20.0" fill="#ff0000"/>
<rect x="865" y="408.0" width="3" height="20.0" fill="#ff0000"/>
<rect x="869" y="422.0" width="1" height="9.0" fill="#0000ff"/>
<rect x="868" y="423.0" width="3" height="5.0" fill="#0000ff"/>
</g>
<text x="19.0" y="14.0" font-family="Liberation Sans, sans-serif" font-size="15.5" fill="#000" stroke="#fff" stroke-width="0.2" textLength="281.88" lengthAdjust="spacingAndGlyphs">China Shanghai A Index (SHASHR) 2401.87</text>
<text x="307.0" y="13.0" font-family="Liberation Sans, sans-serif" font-size="15.5" fill="#0000cc" stroke="#fff" stroke-width="0.2" textLength="35.02" lengthAdjust="spacingAndGlyphs">+7.94</text>
<text x="634.0" y="14.0" font-family="Liberation Sans, sans-serif" font-size="15.5" fill="#000" stroke="#fff" stroke-width="0.2" textLength="145.55" lengthAdjust="spacingAndGlyphs">www.fullermoney.com</text>
<text x="800.0" y="13.0" font-family="Liberation Sans, sans-serif" font-size="15.5" fill="#000" stroke="#fff" stroke-width="0.2" textLength="78.14" lengthAdjust="spacingAndGlyphs">31 Jan 2012</text>
<text x="22.0" y="40" font-family="Liberation Sans, sans-serif" font-size="14" fill="#0000cc" stroke="#fff" stroke-width="0.2" textLength="31.12" lengthAdjust="spacingAndGlyphs">Daily</text>
<text x="883.0" y="57" font-family="Liberation Sans, sans-serif" font-size="14" fill="#000" stroke="#fff" stroke-width="0.2" textLength="30.12" lengthAdjust="spacingAndGlyphs">3200</text>
<text x="883.0" y="150" font-family="Liberation Sans, sans-serif" font-size="14" fill="#000" stroke="#fff" stroke-width="0.2" textLength="30.12" lengthAdjust="spacingAndGlyphs">3000</text>
<text x="883.0" y="244" font-family="Liberation Sans, sans-serif" font-size="14" fill="#000" stroke="#fff" stroke-width="0.2" textLength="30.12" lengthAdjust="spacingAndGlyphs">2800</text>
<text x="883.0" y="337" font-family="Liberation Sans, sans-serif" font-size="14" fill="#000" stroke="#fff" stroke-width="0.2" textLength="30.12" lengthAdjust="spacingAndGlyphs">2600</text>
<text x="883.0" y="430" font-family="Liberation Sans, sans-serif" font-size="14" fill="#000" stroke="#fff" stroke-width="0.2" textLength="30.12" lengthAdjust="spacingAndGlyphs">2400</text>
<text x="883.0" y="524" font-family="Liberation Sans, sans-serif" font-size="14" fill="#000" stroke="#fff" stroke-width="0.2" textLength="30.12" lengthAdjust="spacingAndGlyphs">2200</text>
<text x="71.0" y="540.0" font-family="Liberation Sans, sans-serif" font-size="14" fill="#000" stroke="#fff" stroke-width="0.2" textLength="24.12" lengthAdjust="spacingAndGlyphs">Mar</text>
<text x="147.0" y="540.0" font-family="Liberation Sans, sans-serif" font-size="14" fill="#000" stroke="#fff" stroke-width="0.2" textLength="21.8" lengthAdjust="spacingAndGlyphs">Apr</text>
<text x="217.0" y="540.0" font-family="Liberation Sans, sans-serif" font-size="14" fill="#000" stroke="#fff" stroke-width="0.2" textLength="25.4" lengthAdjust="spacingAndGlyphs">May</text>
<text x="288.0" y="540.0" font-family="Liberation Sans, sans-serif" font-size="14" fill="#000" stroke="#fff" stroke-width="0.2" textLength="21.5" lengthAdjust="spacingAndGlyphs">Jun</text>
<text x="362.0" y="541.0" font-family="Liberation Sans, sans-serif" font-size="14" fill="#000" stroke="#fff" stroke-width="0.2" textLength="17.91" lengthAdjust="spacingAndGlyphs">Jul</text>
<text x="427.0" y="540.0" font-family="Liberation Sans, sans-serif" font-size="14" fill="#000" stroke="#fff" stroke-width="0.2" textLength="24.92" lengthAdjust="spacingAndGlyphs">Aug</text>
<text x="502.0" y="540.0" font-family="Liberation Sans, sans-serif" font-size="14" fill="#000" stroke="#fff" stroke-width="0.2" textLength="23.84" lengthAdjust="spacingAndGlyphs">Sep</text>
<text x="578.0" y="540.0" font-family="Liberation Sans, sans-serif" font-size="14" fill="#000" stroke="#fff" stroke-width="0.2" textLength="20.74" lengthAdjust="spacingAndGlyphs">Oct</text>
<text x="644.0" y="540.0" font-family="Liberation Sans, sans-serif" font-size="14" fill="#000" stroke="#fff" stroke-width="0.2" textLength="23.82" lengthAdjust="spacingAndGlyphs">Nov</text>
<text x="716.0" y="540.0" font-family="Liberation Sans, sans-serif" font-size="14" fill="#000" stroke="#fff" stroke-width="0.2" textLength="23.87" lengthAdjust="spacingAndGlyphs">Dec</text>
<text x="791.0" y="540.0" font-family="Liberation Sans, sans-serif" font-size="14" fill="#000" stroke="#fff" stroke-width="0.2" textLength="30.12" lengthAdjust="spacingAndGlyphs">2012</text>
<text x="741.0" y="555.0" font-family="Liberation Sans, sans-serif" font-size="10" fill="#888" stroke="#fff" stroke-width="0.2" textLength="136.99" lengthAdjust="spacingAndGlyphs">© 2012 Stockcube Research Ltd</text>
</svg>
</body></html>
